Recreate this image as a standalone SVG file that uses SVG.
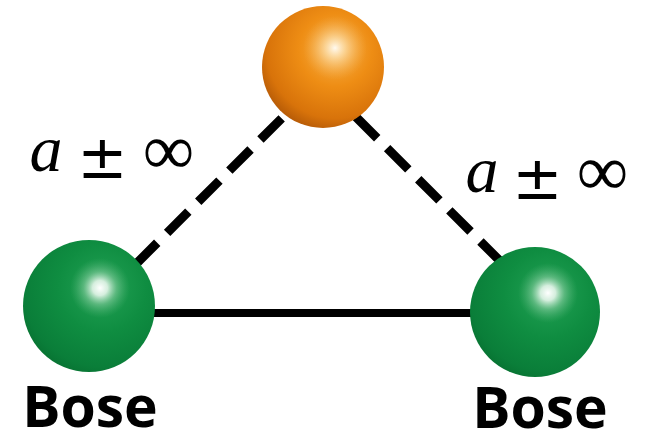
<svg xmlns="http://www.w3.org/2000/svg" width="646" height="434" viewBox="0 0 646 434">
<style>
.dash{stroke:#000;stroke-width:9;stroke-dasharray:30 14;fill:none}
.solid{stroke:#000;stroke-width:8;fill:none}
.it{font-family:"Liberation Serif","DejaVu Serif",serif;font-style:italic;font-size:66px;fill:#000}
.pm{font-family:"DejaVu Sans","Liberation Sans",sans-serif;font-size:60px;fill:#000}
.inf{font-family:"Liberation Serif","DejaVu Serif",serif;font-size:72px;fill:#000}
.bose{font-family:"Open Sans","Liberation Sans",sans-serif;font-weight:bold;font-size:57px;fill:#000}
</style>
<defs>
<radialGradient id="gGreen" cx="0.6" cy="0.36" r="0.75">
<stop offset="0" stop-color="#22a255"/>
<stop offset="0.45" stop-color="#0f8d41"/>
<stop offset="0.8" stop-color="#0a7e39"/>
<stop offset="1" stop-color="#066a2d"/>
</radialGradient>
<radialGradient id="hGreen">
<stop offset="0" stop-color="#ffffff" stop-opacity="1"/>
<stop offset="0.25" stop-color="#eef9f1" stop-opacity="0.88"/>
<stop offset="0.55" stop-color="#a8dcb8" stop-opacity="0.45"/>
<stop offset="1" stop-color="#60bb80" stop-opacity="0"/>
</radialGradient>
<radialGradient id="gOrange" cx="0.6" cy="0.36" r="0.75">
<stop offset="0" stop-color="#f8b24a"/>
<stop offset="0.4" stop-color="#ee8d14"/>
<stop offset="0.75" stop-color="#d8730a"/>
<stop offset="1" stop-color="#a04b05"/>
</radialGradient>
<radialGradient id="hOrange">
<stop offset="0" stop-color="#fffaf0" stop-opacity="1"/>
<stop offset="0.3" stop-color="#fde3b4" stop-opacity="0.75"/>
<stop offset="1" stop-color="#f5b050" stop-opacity="0"/>
</radialGradient>
</defs>
<g id="connectors">
<line class="solid" x1="150" y1="313" x2="475" y2="313"/>
<line class="dash" x1="136" y1="264" x2="292" y2="108"/>
<line class="dash" x1="356" y1="117" x2="500" y2="261"/>
</g>
<g id="top">
<circle cx="323" cy="67" r="61" fill="url(#gOrange)"/>
<circle cx="335" cy="48" r="32" fill="url(#hOrange)"/>
</g>
<g id="boseLeft">
<circle cx="89" cy="306" r="66" fill="url(#gGreen)"/>
<circle cx="100" cy="288" r="30" fill="url(#hGreen)"/>
<text class="bose" x="90" y="427" text-anchor="middle">Bose</text>
</g>
<g id="boseRight">
<circle cx="535" cy="312" r="65" fill="url(#gGreen)"/>
<circle cx="548" cy="293" r="30" fill="url(#hGreen)"/>
<text class="bose" x="540" y="428" text-anchor="middle">Bose</text>
</g>
<g id="labelLeft">
<text class="it" x="46" y="171" text-anchor="middle">a</text>
<text class="pm" x="102.5" y="178" text-anchor="middle">±</text>
<text class="inf" x="168.5" y="174" text-anchor="middle">∞</text>
</g>
<g id="labelRight">
<text class="it" x="482" y="192" text-anchor="middle">a</text>
<text class="pm" x="537.5" y="199" text-anchor="middle">±</text>
<text class="inf" x="602.5" y="195" text-anchor="middle">∞</text>
</g>
</svg>
